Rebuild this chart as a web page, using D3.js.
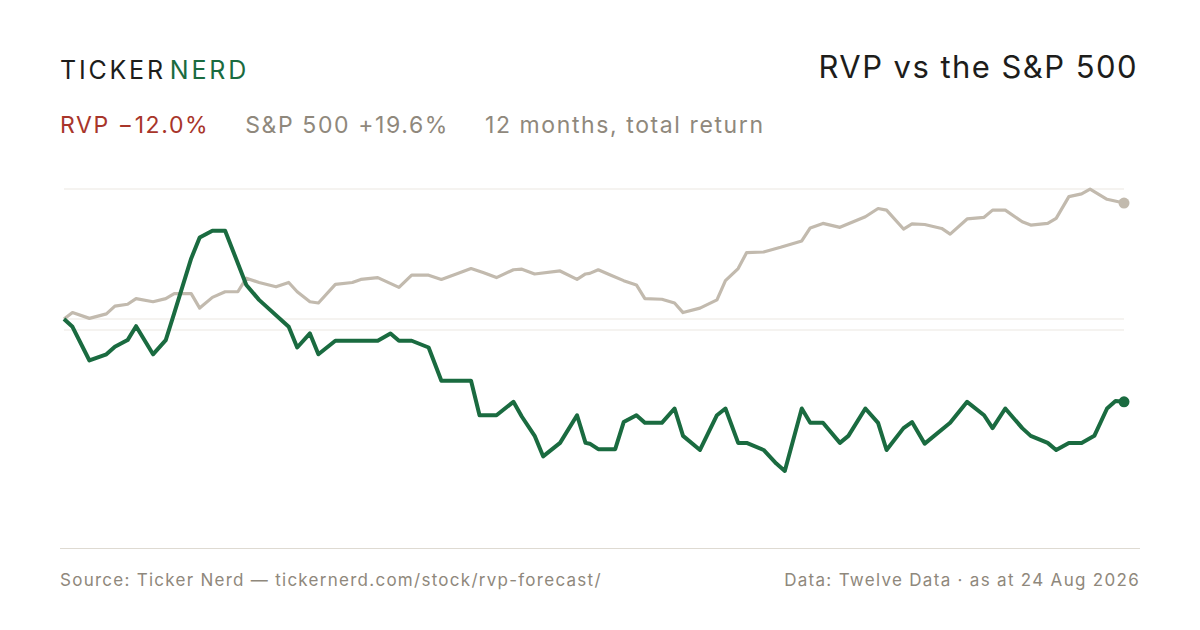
<!DOCTYPE html>
<html>
<head>
<meta charset="utf-8">
<script src="https://cdn.jsdelivr.net/npm/d3@7"></script>
<style>
  body { margin: 0; background: #fff; }
  text { font-family: Inter, "Noto Sans", sans-serif; }
</style>
</head>
<body>
<svg id="chart" width="1200" height="630"></svg>
<script>
// Trading-day index (0..250) and total return in % at each turning point
const rvpDays = [0,2,6,10,12,15,17,21,24,26,30,32,35,38,43,46,53,55,58,60,64,74,77,79,82,86,89,96,98,102,106,108,111,113,117,121,123,
  124,126,130,132,135,137,141,144,146,150,154,156,159,161,165,168,170,174,176,179,183,185,189,192,194,198,200,203,209,213,217,219,222,226,228,232,234,237,240,243,246,248,250];
const rvpPct = [0,-1.2,-6.2,-5.3,-4.2,-3.2,-1.1,-5.3,-3.2,0.9,9.8,13.4,14.6,14.6,5.4,3.0,-1.2,-4.3,-2.2,-5.3,-3.3,-3.3,-2.2,-3.3,-3.3,-4.3,-9.1,-9.1,-13.8,-13.8,-12.0,-14.0,-16.5,-19.1,-17.4,-13.8,-17.4,
  -17.5,-18.2,-18.2,-14.7,-13.8,-14.8,-14.8,-12.9,-16.5,-18.3,-13.8,-12.9,-17.4,-17.4,-18.3,-20.0,-20.9,-12.9,-14.8,-14.8,-17.4,-16.5,-12.9,-14.8,-18.3,-15.5,-14.7,-17.5,-14.8,-12.0,-13.8,-15.5,-12.9,-15.5,-16.5,-17.4,-18.3,-17.4,-17.4,-16.5,-12.9,-11.9,-12.0];

const spxDays = [0,2,6,10,12,15,17,21,24,26,30,32,35,38,41,43,46,50,53,55,58,60,64,68,70,74,79,82,86,89,93,96,99,102,106,108,111,117,121,123,
  124,126,129,132,135,137,141,144,146,150,154,156,159,161,165,169,174,176,179,183,189,192,194,198,200,203,207,209,213,217,219,222,226,228,232,234,237,240,242,246,250];
const spxPct = [0,1.0,0.1,0.8,2.0,2.3,3.2,2.7,3.2,4.0,4.0,1.7,3.4,4.3,4.3,6.5,5.8,5.1,5.8,4.3,2.7,2.5,5.5,5.8,6.3,6.6,5.0,7.0,7.0,6.3,7.3,8.1,7.4,6.6,7.9,8.0,7.2,7.7,6.3,7.2,
  7.3,7.9,7.0,6.1,5.4,3.2,3.1,2.5,1.0,1.7,3.0,6.1,8.1,10.8,10.9,11.7,12.8,15.1,15.9,15.2,17.1,18.6,18.3,14.9,15.8,15.7,15.0,14.0,16.7,17.0,18.3,18.3,16.2,15.6,15.9,16.8,20.8,21.3,22.2,20.3,19.6];

const totalDays = 250;
const gridIndex = [1.2222, 1, 0.9832];

const svg = d3.select("#chart");
const x = d3.scaleLinear().domain([0, totalDays]).range([64, 1124]);
const y = d3.scaleLog().domain([0.7023, 1.2222]).range([548, 189]);

const toSeries = (days, pct) => days.map((d, i) => ({ day: d, idx: 1 + pct[i] / 100 }));
const rvp = toSeries(rvpDays, rvpPct);
const spx = toSeries(spxDays, spxPct);

// Header
const logo = svg.append("text").attr("x", 60).attr("y", 79)
  .attr("font-size", 25).attr("letter-spacing", 2.8);
logo.append("tspan").attr("fill", "#1d1d1b").text("TICKER");
logo.append("tspan").attr("fill", "#1a6b40").attr("dx", 4).text("NERD");

svg.append("text").attr("x", 1138).attr("y", 78).attr("text-anchor", "end")
  .attr("font-size", 31).attr("letter-spacing", 1.45).attr("fill", "#1d1d1b").text("RVP vs the S&P 500");

const sub = svg.append("text").attr("x", 60).attr("y", 133).attr("font-size", 23).attr("letter-spacing", 1.6);
sub.append("tspan").attr("fill", "#a8352a").text("RVP −12.0%");
sub.append("tspan").attr("fill", "#8f887c").attr("dx", 36).text("S&P 500 +19.6%");
sub.append("tspan").attr("fill", "#8f887c").attr("dx", 36).text("12 months, total return");

// Gridlines
svg.selectAll("line.grid").data(gridIndex).join("line")
  .attr("class", "grid")
  .attr("x1", 64).attr("x2", 1124)
  .attr("y1", d => y(d)).attr("y2", d => y(d))
  .attr("stroke", "#ebe8e2").attr("stroke-width", 1.2);

svg.append("line").attr("x1", 60).attr("x2", 1140).attr("y1", 548.5).attr("y2", 548.5)
  .attr("stroke", "#dedad2").attr("stroke-width", 1.2);

// Lines
const line = d3.line().x(d => x(d.day)).y(d => y(d.idx));

svg.append("path").datum(spx).attr("d", line)
  .attr("fill", "none").attr("stroke", "#c2baae").attr("stroke-width", 3.2)
  .attr("stroke-linejoin", "round");
svg.append("circle").attr("cx", x(spx[spx.length - 1].day)).attr("cy", y(spx[spx.length - 1].idx))
  .attr("r", 5.5).attr("fill", "#c2baae");

svg.append("path").datum(rvp).attr("d", line)
  .attr("fill", "none").attr("stroke", "#1a6b40").attr("stroke-width", 4)
  .attr("stroke-linejoin", "round");
svg.append("circle").attr("cx", x(rvp[rvp.length - 1].day)).attr("cy", y(rvp[rvp.length - 1].idx))
  .attr("r", 5.5).attr("fill", "#1a6b40");

// Footer
svg.append("text").attr("x", 60).attr("y", 586).attr("font-size", 17).attr("letter-spacing", 1.27).attr("fill", "#8f887c")
  .text("Source: Ticker Nerd — tickernerd.com/stock/rvp-forecast/");
svg.append("text").attr("x", 1140).attr("y", 586).attr("text-anchor", "end").attr("font-size", 17).attr("letter-spacing", 1.3).attr("fill", "#8f887c")
  .text("Data: Twelve Data · as at 24 Aug 2026");
</script>
</body>
</html>
